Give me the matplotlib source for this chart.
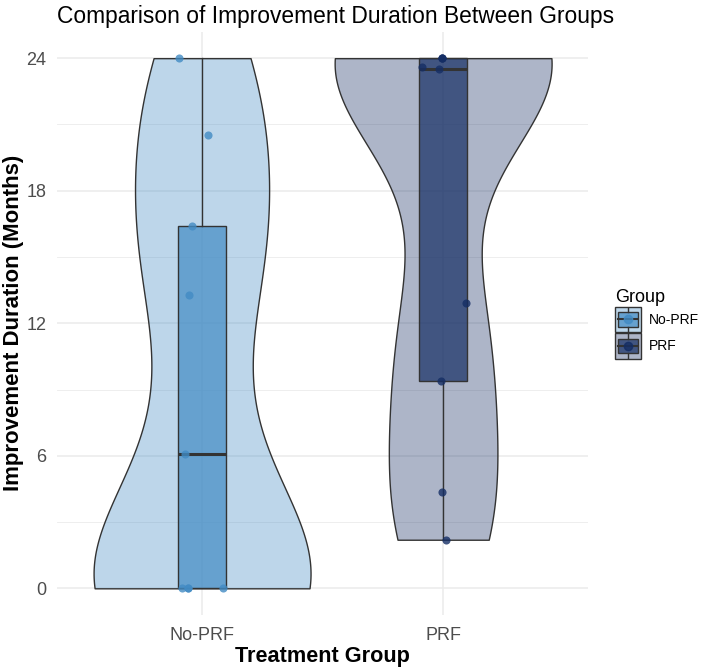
import numpy as np
import matplotlib.pyplot as plt
from matplotlib.legend_handler import HandlerBase
from matplotlib.patches import Rectangle
from matplotlib.lines import Line2D
from matplotlib.colors import to_rgba

plt.rcParams['font.family'] = ['Liberation Sans', 'DejaVu Sans']

# Data
groups = ['No-PRF', 'PRF']
no_prf_months = [24, 20.5, 16.4, 13.3, 6.1, 0, 0, 0, 0]
prf_months = [24, 24, 24, 23.6, 23.5, 12.9, 9.4, 4.35, 2.2]
y_ticks = [0, 6, 12, 18, 24]

# horizontal jitter of each point (same order as the values)
no_prf_jitter = [-0.095, 0.025, -0.04, -0.054, -0.07, -0.083, -0.058, 0.087, -0.058]
prf_jitter = [-0.005, -0.005, -0.005, -0.086, -0.017, 0.095, -0.01, -0.005, 0.012]

group_colors = ['#428BC4', '#142D64']
line_color = '#333333'
bw_adjust = 0.76


def nrd0_factor(kde):
    # R's bw.nrd0 (times adjust), as a factor of the sample sd (matplotlib's kde convention)
    x = np.asarray(kde.dataset).ravel()
    sd = np.std(x, ddof=1)
    q1, q3 = np.percentile(x, [25, 75])
    lo = min(sd, (q3 - q1) / 1.34)
    bw = 0.9 * lo * len(x) ** -0.2 * bw_adjust
    return bw / sd


class BoxKeyHandler(HandlerBase):
    def create_artists(self, legend, orig_handle, xdescent, ydescent,
                       width, height, fontsize, trans):
        c = orig_handle.get_color()
        x0, y0 = -xdescent, -ydescent
        cx, cy = x0 + width / 2, y0 + height / 2
        bg = Rectangle((x0, y0), width, height, facecolor=to_rgba(c, 0.35),
                       edgecolor=line_color, lw=1.0, transform=trans)
        box = Rectangle((x0 + 0.1 * width, y0 + 0.22 * height), 0.8 * width, 0.56 * height,
                        facecolor=to_rgba(c, 0.7), edgecolor=line_color, lw=1.0, transform=trans)
        w1 = Line2D([cx, cx], [y0 + 0.05 * height, y0 + 0.22 * height], color=line_color, lw=1.0, transform=trans)
        w2 = Line2D([cx, cx], [y0 + 0.78 * height, y0 + 0.95 * height], color=line_color, lw=1.0, transform=trans)
        med = Line2D([x0 + 0.1 * width, x0 + 0.9 * width], [cy, cy], color=line_color, lw=1.5, transform=trans)
        pt = Line2D([cx], [cy], marker='o', markersize=6, color=c, alpha=0.8, lw=0, transform=trans)
        return [bg, box, w1, w2, med, pt]


fig = plt.figure(figsize=(7.09, 6.68), dpi=100)
ax = fig.add_axes([0.081, 0.0796, 0.748, 0.873])

data = [no_prf_months, prf_months]
jitters = [no_prf_jitter, prf_jitter]
positions = np.arange(1, len(groups) + 1)

# violins
vp = ax.violinplot(data, positions=positions, widths=0.9, showextrema=False,
                   bw_method=nrd0_factor, points=200)
for body, c in zip(vp['bodies'], group_colors):
    body.set_alpha(None)
    body.set_facecolor(to_rgba(c, 0.35))
    body.set_edgecolor(line_color)
    body.set_linewidth(1.0)
    body.set_zorder(2)

# boxplots
bp = ax.boxplot(data, positions=positions, widths=0.2, whis=1.5, showfliers=False,
                showcaps=False, patch_artist=True,
                medianprops=dict(color=line_color, lw=2.2),
                whiskerprops=dict(color=line_color, lw=1.0),
                boxprops=dict(edgecolor=line_color, lw=1.0))
for patch, c in zip(bp['boxes'], group_colors):
    patch.set_facecolor(to_rgba(c, 0.7))
    patch.set_zorder(3)
for ln in bp['whiskers'] + bp['medians']:
    ln.set_zorder(3.5)

# jittered points
for pos, vals, jit, c in zip(positions, data, jitters, group_colors):
    ax.scatter(pos + np.array(jit), vals, s=34, color=c, alpha=0.8, lw=0, zorder=4)

# axes styling (minimal theme)
ax.set_xlim(0.4, 2.6)
ax.set_ylim(-1.2, 25.2)
ax.set_xticks(positions)
ax.set_xticklabels(groups)
ax.set_yticks(y_ticks)
ax.set_yticks([3, 9, 15, 21], minor=True)
ax.tick_params(axis='both', which='both', length=0, labelsize=13, labelcolor='#4D4D4D')
ax.tick_params(axis='x', pad=9)
ax.tick_params(axis='y', pad=8)
ax.grid(True, which='major', color='#EBEBEB', lw=1.1)
ax.grid(True, which='minor', axis='y', color='#EBEBEB', lw=0.6)
ax.set_axisbelow(True)
for s in ax.spines.values():
    s.set_visible(False)

ax.set_xlabel('Treatment Group', fontsize=15.6, fontweight='bold', labelpad=1)
ax.set_ylabel('Improvement Duration (Months)', fontsize=16, fontweight='bold', labelpad=2)
ax.set_title('Comparison of Improvement Duration Between Groups', fontsize=16.4, loc='left', pad=6)

handles = [Line2D([], [], color=c) for c in group_colors]
leg = fig.legend(handles, groups, title='Group', loc='center left',
                 bbox_to_anchor=(0.858, 0.515), frameon=False, fontsize=10,
                 title_fontsize=13, handlelength=1.85, handleheight=2.5,
                 labelspacing=0.05, handletextpad=0.6, borderpad=0,
                 handler_map={Line2D: BoxKeyHandler()})
leg._legend_box.align = 'left'

fig.savefig('out.png', dpi=100)
